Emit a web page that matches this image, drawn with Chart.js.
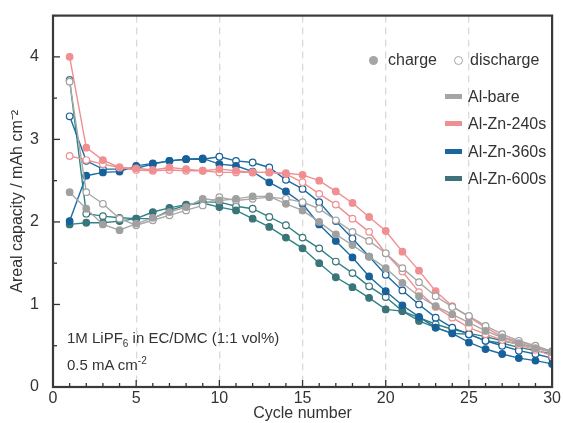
<!DOCTYPE html>
<html>
<head>
<meta charset="utf-8">
<script src="https://cdn.jsdelivr.net/npm/chart.js@4/dist/chart.umd.min.js"></script>
<style>
  html, body { margin: 0; padding: 0; background: #fff; }
  #wrap { position: relative; width: 563px; height: 423px; font-family: "Liberation Sans", Arial, sans-serif; color: #333; }
  canvas { position: absolute; left: 0; top: 0; }
  .lab { position: absolute; font-size: 16px; white-space: nowrap; line-height: 1; }
  .note { position: absolute; font-size: 15px; white-space: nowrap; line-height: 1; left: 67px; }
  .dot { position: absolute; width: 9px; height: 9px; border-radius: 50%; box-sizing: border-box; }
  .sw { position: absolute; width: 17px; height: 5px; left: 445px; }
</style>
</head>
<body>
<div id="wrap">
  <canvas id="chart" width="563" height="423"></canvas>
  <div class="dot" style="left:369px;top:56px;background:#a5a5a5;"></div>
  <div class="lab" style="left:388px;top:52px;">charge</div>
  <div class="dot" style="left:454px;top:56px;border:1.5px solid #a5a5a5;"></div>
  <div class="lab" style="left:470px;top:52px;">discharge</div>

  <div class="sw" style="top:94px;background:#a5a5a5;"></div>
  <div class="lab" style="left:468px;top:89px;">Al-bare</div>
  <div class="sw" style="top:121px;background:#f08f92;"></div>
  <div class="lab" style="left:468px;top:116px;">Al-Zn-240s</div>
  <div class="sw" style="top:149px;background:#1b669c;"></div>
  <div class="lab" style="left:468px;top:144px;">Al-Zn-360s</div>
  <div class="sw" style="top:176px;background:#3d7378;"></div>
  <div class="lab" style="left:468px;top:171px;">Al-Zn-600s</div>

  <div class="note" style="top:330px;">1M LiPF<sub style="font-size:10px;">6</sub> in EC/DMC (1:1 vol%)</div>
  <div class="note" style="top:356px;">0.5 mA cm<sup style="font-size:10px;">-2</sup></div>
</div>
<script>
// cycle numbers and read-off capacities (mAh cm-2)
const cycles = [1,2,3,4,5,6,7,8,9,10,11,12,13,14,15,16,17,18,19,20,21,22,23,24,25,26,27,28,29,30];

const bareCharge = [2.36,2.16,1.97,1.90,1.98,2.05,2.12,2.18,2.28,2.26,2.28,2.31,2.31,2.22,2.14,2.00,1.85,1.72,1.58,1.44,1.26,1.10,0.98,0.88,0.78,0.68,0.60,0.53,0.47,0.42];
const bareDischarge = [3.70,2.36,2.22,2.04,1.96,2.02,2.08,2.14,2.20,2.30,2.26,2.28,2.30,2.28,2.24,2.16,2.02,1.88,1.77,1.62,1.44,1.27,1.10,0.97,0.86,0.74,0.64,0.56,0.50,0.43];

const zn240Charge = [4.00,2.90,2.75,2.66,2.65,2.63,2.66,2.64,2.62,2.64,2.62,2.60,2.60,2.59,2.57,2.50,2.37,2.23,2.06,1.89,1.64,1.41,1.16,0.98,0.85,0.72,0.61,0.55,0.49,0.42];
const zn240Discharge = [2.80,2.75,2.70,2.66,2.63,2.62,2.63,2.62,2.62,2.60,2.60,2.60,2.60,2.58,2.48,2.34,2.21,2.04,1.88,1.62,1.40,1.15,0.97,0.84,0.72,0.64,0.57,0.51,0.45,0.38];

const zn360Charge = [2.01,2.56,2.60,2.61,2.68,2.71,2.74,2.76,2.77,2.70,2.68,2.61,2.48,2.37,2.22,1.97,1.77,1.57,1.34,1.16,0.99,0.85,0.72,0.65,0.54,0.46,0.40,0.35,0.32,0.28];
const zn360Discharge = [3.28,2.74,2.64,2.64,2.65,2.70,2.74,2.76,2.76,2.79,2.74,2.72,2.66,2.51,2.40,2.24,2.01,1.80,1.58,1.36,1.17,1.00,0.84,0.72,0.64,0.56,0.50,0.44,0.40,0.35];

const zn600Charge = [1.97,1.99,1.99,2.01,2.04,2.12,2.17,2.21,2.23,2.18,2.14,2.04,1.94,1.81,1.68,1.50,1.33,1.21,1.08,0.94,0.92,0.80,0.72,0.65,0.64,0.56,0.53,0.48,0.44,0.40];
const zn600Discharge = [3.72,2.10,2.07,2.05,2.04,2.04,2.14,2.20,2.24,2.24,2.19,2.16,2.06,1.96,1.81,1.68,1.52,1.38,1.22,1.09,0.92,0.84,0.76,0.70,0.65,0.61,0.56,0.52,0.48,0.43];

const xTicks = [0,5,10,15,20,25,30];
const yTicks = [0,1,2,3,4];

const colors = {
  bare: '#a8a8a8',
  zn240: '#f08f92',
  zn360: '#1b6ea4',
  zn600: '#2f8285'
};
const markerColors = {
  bare: '#a0a0a0',
  zn240: '#f08f92',
  zn360: '#17619a',
  zn600: '#3a7579'
};

function pts(values) {
  return cycles.map((c, i) => ({ x: c, y: values[i] }));
}

function series(key, values, filled) {
  return {
    data: pts(values),
    borderColor: colors[key],
    borderWidth: 1.4,
    pointRadius: 3.3,
    pointBorderWidth: 1.2,
    pointBorderColor: markerColors[key],
    pointBackgroundColor: filled ? markerColors[key] : '#ffffff',
    tension: 0,
    fill: false
  };
}

// inward tick marks + frame
const framePlugin = {
  id: 'frame',
  afterDraw(chart) {
    const ctx = chart.ctx;
    const a = chart.chartArea;
    const xs = chart.scales.x, ys = chart.scales.y;
    ctx.save();
    ctx.strokeStyle = '#333';
    ctx.lineWidth = 1.3;
    for (let v = 0; v <= 30; v++) {
      const px = xs.getPixelForValue(v);
      const len = v % 5 === 0 ? 7 : 4;
      ctx.beginPath();
      ctx.moveTo(px, a.bottom);
      ctx.lineTo(px, a.bottom - len);
      ctx.stroke();
    }
    for (let v = 0; v <= 4.5; v += 0.5) {
      const py = ys.getPixelForValue(v);
      const len = Number.isInteger(v) ? 7 : 4;
      ctx.beginPath();
      ctx.moveTo(a.left, py);
      ctx.lineTo(a.left + len, py);
      ctx.stroke();
    }
    ctx.lineWidth = 2.2;
    ctx.strokeStyle = '#3a3a3a';
    ctx.strokeRect(a.left, a.top, a.right - a.left, a.bottom - a.top);
    ctx.restore();
  }
};

const ctx = document.getElementById('chart').getContext('2d');
new Chart(ctx, {
  type: 'line',
  data: {
    datasets: [
      series('bare', bareCharge, true),
      series('bare', bareDischarge, false),
      series('zn240', zn240Charge, true),
      series('zn240', zn240Discharge, false),
      series('zn360', zn360Charge, true),
      series('zn360', zn360Discharge, false),
      series('zn600', zn600Charge, true),
      series('zn600', zn600Discharge, false)
    ]
  },
  options: {
    responsive: false,
    animation: false,
    layout: { padding: { top: 12, right: 10, left: 0, bottom: 0 } },
    plugins: { legend: { display: false }, tooltip: { enabled: false } },
    scales: {
      x: {
        type: 'linear',
        min: 0,
        max: 30,
        afterBuildTicks: s => { s.ticks = xTicks.map(v => ({ value: v })); },
        afterFit: s => { s.height = 36; },
        ticks: { color: '#333', font: { family: 'Liberation Sans', size: 16 }, padding: 2, maxRotation: 0 },
        grid: {
          drawTicks: false,
          color: c => (c.tick && c.tick.value > 0 && c.tick.value < 30) ? '#d9d9d9' : 'rgba(0,0,0,0)',
          lineWidth: 1.3
        },
        border: { display: false, dash: [7, 5] },
        title: { display: true, text: 'Cycle number', color: '#333', font: { family: 'Liberation Sans', size: 16 }, padding: 0 }
      },
      y: {
        min: 0,
        max: 4.5,
        afterBuildTicks: s => { s.ticks = yTicks.map(v => ({ value: v })); },
        afterFit: s => { s.width = 53; },
        ticks: { color: '#333', font: { family: 'Liberation Sans', size: 16 }, padding: 6 },
        grid: { display: false },
        border: { display: false },
        title: { display: true, text: 'Areal capacity / mAh cm\u207B\u00B2', color: '#333', font: { family: 'Liberation Sans', size: 16 }, padding: { top: 8, bottom: 0 } }
      }
    }
  },
  plugins: [framePlugin]
});
</script>
</body>
</html>
